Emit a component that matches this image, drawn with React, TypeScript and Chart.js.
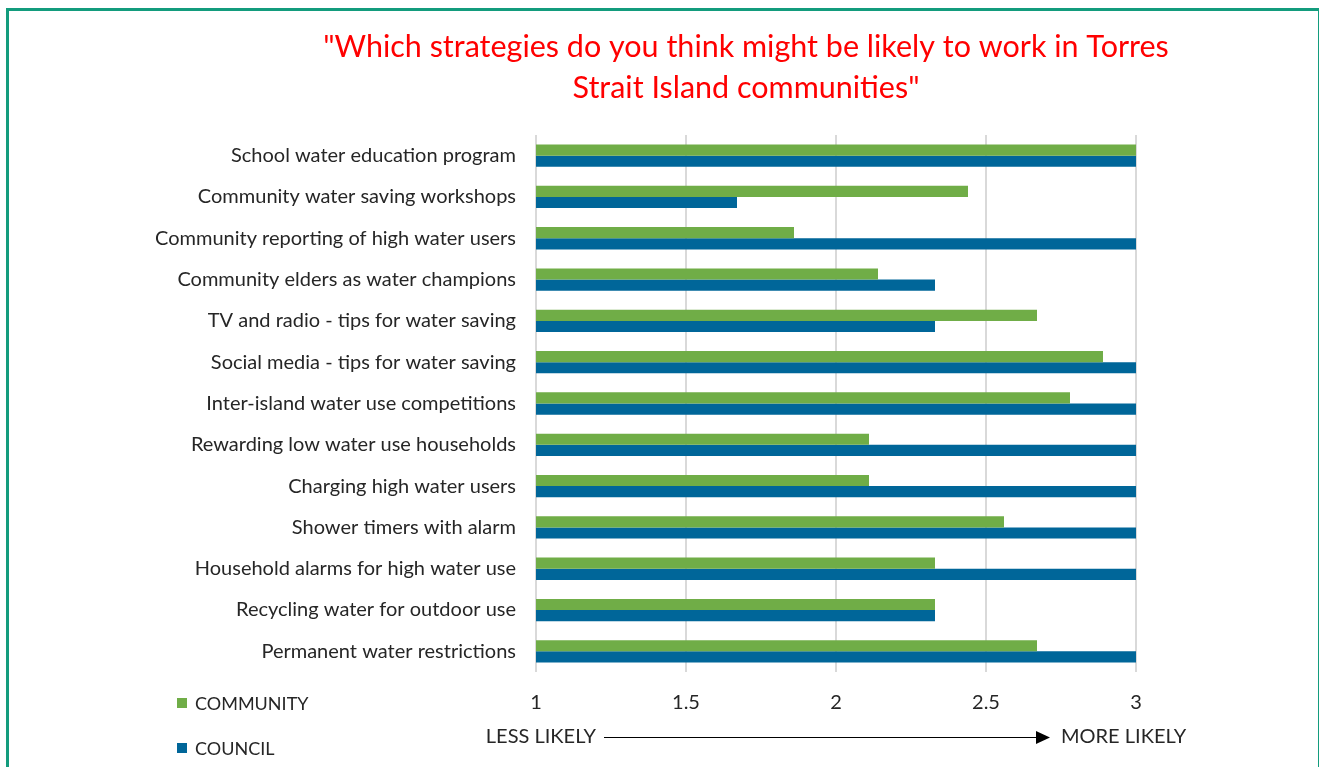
import React, { useEffect, useRef } from "react";
import { Chart, registerables } from "chart.js";

Chart.register(...registerables);

// Survey strategies, top to bottom
const strategies = [
  "School water education program",
  "Community water saving workshops",
  "Community reporting of high water users",
  "Community elders as water champions",
  "TV and radio - tips for water saving",
  "Social media - tips for water saving",
  "Inter-island water use competitions",
  "Rewarding low water use households",
  "Charging high water users",
  "Shower timers with alarm",
  "Household alarms for high water use",
  "Recycling water for outdoor use",
  "Permanent water restrictions",
];

// Mean likelihood rating (1 = less likely, 3 = more likely)
const communityScores = [3, 2.44, 1.86, 2.14, 2.67, 2.89, 2.78, 2.11, 2.11, 2.56, 2.33, 2.33, 2.67];
const councilScores = [3, 1.67, 3, 2.33, 2.33, 3, 3, 3, 3, 3, 3, 2.33, 3];

const seriesNames = ["COMMUNITY", "COUNCIL"];
const seriesColors = ["#70AD47", "#006699"];

const titleLines = [
  '"Which strategies do you think might be likely to work in Torres',
  'Strait Island communities"',
];
const scaleLabels = ["LESS LIKELY", "MORE LIKELY"];

const W = 1319;
const H = 767;
const FONT = "Lato, 'Open Sans', sans-serif";
const TEXT = "#262626";

const decorations = {
  id: "decorations",
  afterDraw(chart: Chart) {
    const ctx = chart.ctx;
    const area = chart.chartArea;
    ctx.save();

    // title
    ctx.fillStyle = "#FF0000";
    ctx.font = `30.5px ${FONT}`;
    ctx.textAlign = "center";
    ctx.textBaseline = "middle";
    ctx.fillText(titleLines[0], 746, 47);
    ctx.fillText(titleLines[1], 746, 88);

    // legend
    ctx.font = `18px ${FONT}`;
    ctx.textAlign = "left";
    const legendY = [703, 748];
    chart.data.datasets.forEach((ds, i) => {
      ctx.fillStyle = ds.backgroundColor as string;
      ctx.fillRect(177, legendY[i] - 5, 10, 10);
      ctx.fillStyle = TEXT;
      ctx.fillText(ds.label as string, 195, legendY[i] + 1);
    });

    // less likely -> more likely arrow
    const y = 737;
    ctx.font = `20px ${FONT}`;
    ctx.fillStyle = TEXT;
    ctx.textAlign = "right";
    ctx.fillText(scaleLabels[0], area.left + 60, y);
    ctx.textAlign = "left";
    ctx.fillText(scaleLabels[1], area.right - 75, y);
    ctx.strokeStyle = "#000";
    ctx.lineWidth = 1;
    ctx.beginPath();
    ctx.moveTo(area.left + 68, y + 0.5);
    ctx.lineTo(area.right - 100, y + 0.5);
    ctx.stroke();
    ctx.fillStyle = "#000";
    ctx.beginPath();
    ctx.moveTo(area.right - 100, y - 6);
    ctx.lineTo(area.right - 86, y + 0.5);
    ctx.lineTo(area.right - 100, y + 7);
    ctx.closePath();
    ctx.fill();

    ctx.restore();
  },
};

export default function App() {
  const canvasRef = useRef<HTMLCanvasElement | null>(null);

  useEffect(() => {
    const canvas = canvasRef.current;
    if (!canvas) return;
    const chart = new Chart(canvas, {
      type: "bar",
      data: {
        labels: strategies,
        datasets: [
          {
            label: seriesNames[0],
            data: communityScores,
            backgroundColor: seriesColors[0],
            categoryPercentage: 0.54,
            barPercentage: 1,
          },
          {
            label: seriesNames[1],
            data: councilScores,
            backgroundColor: seriesColors[1],
            categoryPercentage: 0.54,
            barPercentage: 1,
          },
        ],
      },
      options: {
        indexAxis: "y",
        animation: false,
        responsive: true,
        maintainAspectRatio: false,
        layout: { padding: { top: 135, left: 0, right: 183, bottom: 0 } },
        plugins: {
          legend: { display: false },
          title: { display: false },
          tooltip: { enabled: false },
        },
        scales: {
          x: {
            min: 1,
            max: 3,
            ticks: {
              stepSize: 0.5,
              color: TEXT,
              font: { family: FONT, size: 20 },
              padding: 19,
              callback: (v: any) => String(Number(v)),
            },
            grid: { color: "#D9D9D9", lineWidth: 2, drawTicks: false },
            border: { display: false },
            afterFit(scale: any) {
              scale.height = 95;
            },
          },
          y: {
            ticks: {
              color: TEXT,
              font: { family: FONT, size: 20 },
              padding: 20,
              autoSkip: false,
            },
            grid: { display: false, drawTicks: false },
            border: { display: false },
            afterFit(scale: any) {
              scale.width = 536;
            },
          },
        },
      },
      plugins: [decorations],
    });
    return () => chart.destroy();
  }, []);

  return (
    <div
      style={{
        position: "absolute",
        left: 0,
        top: 0,
        width: W,
        height: H,
        overflow: "hidden",
        background: "#fff",
      }}
    >
      <div style={{ position: "absolute", left: 0, top: 0, width: W, height: H }}>
        <canvas ref={canvasRef} />
      </div>
      <div
        style={{
          position: "absolute",
          left: 6,
          top: 8,
          width: 1309,
          height: 800,
          border: "3px solid #139C7D",
          pointerEvents: "none",
        }}
      />
    </div>
  );
}
